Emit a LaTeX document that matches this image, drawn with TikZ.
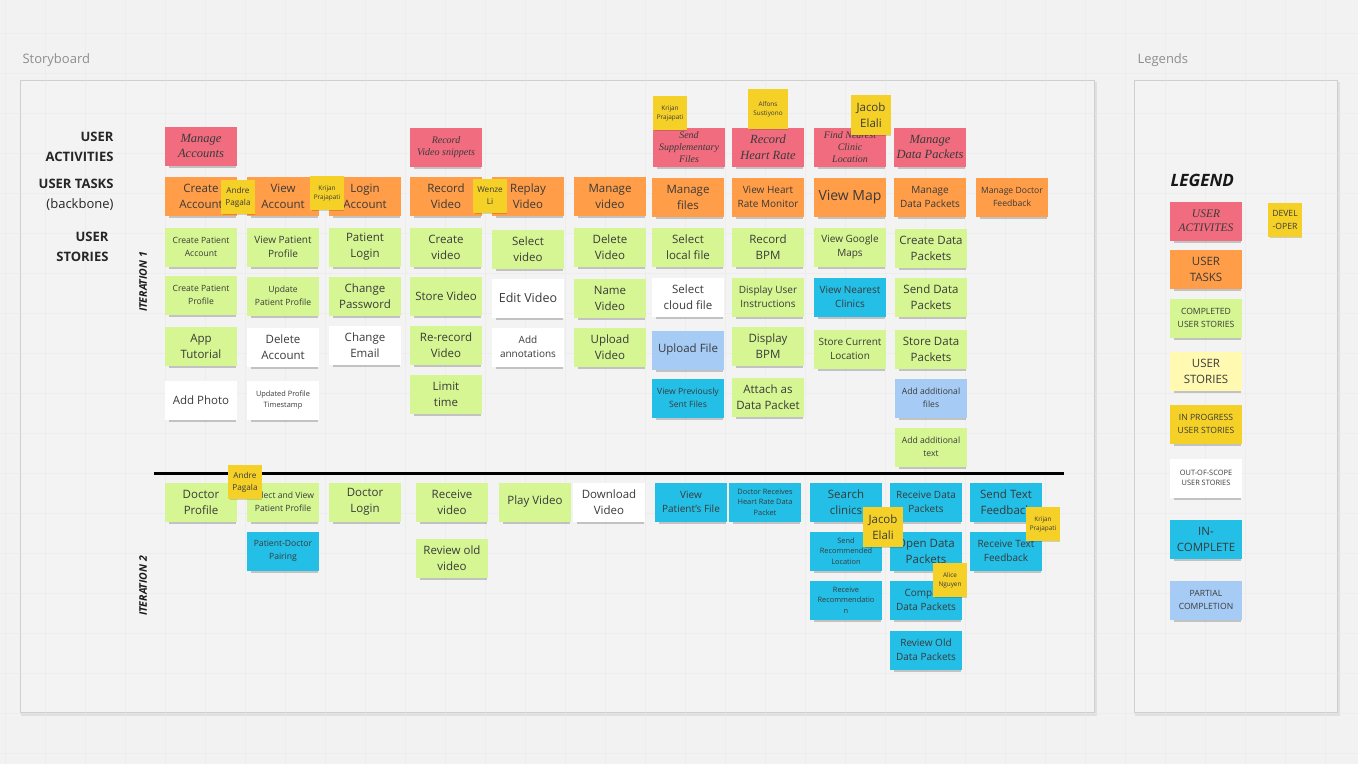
\documentclass[tikz,border=0pt]{standalone}
\usepackage{fontspec}
\setmainfont{Open Sans}
\newfontfamily\handfont{Liberation Serif}
\usepackage{tikz}
\usetikzlibrary{shadows}

\definecolor{boardbg}{HTML}{F2F2F2}
\definecolor{gridline}{HTML}{E7E7E7}
\definecolor{framebg}{HTML}{F3F3F3}
\definecolor{framerule}{HTML}{CFCFCF}
\definecolor{captiongray}{HTML}{8E8E8E}
\definecolor{notetext}{HTML}{3A3A3A}
\definecolor{pinknote}{HTML}{F16C7F}
\definecolor{orangenote}{HTML}{FF9D48}
\definecolor{greennote}{HTML}{D5F692}
\definecolor{paleyellow}{HTML}{FFF9B1}
\definecolor{devyellow}{HTML}{F5D128}
\definecolor{whitenote}{HTML}{FFFFFF}
\definecolor{cyannote}{HTML}{23BFE7}
\definecolor{bluenote}{HTML}{A6CCF5}

\newcommand{\fbig}{\fontsize{11.5}{16}\selectfont}
\newcommand{\fmid}{\fontsize{10}{14}\selectfont}
\newcommand{\fsml}{\fontsize{8.6}{12.5}\selectfont}
\newcommand{\ftny}{\fontsize{7.4}{10.5}\selectfont}
\newcommand{\fdev}{\fontsize{8.2}{12}\selectfont}
\newcommand{\fmini}{\fontsize{6.4}{9}\selectfont}
\newcommand{\fhuge}{\fontsize{14}{17}\selectfont}
\newcommand{\fhand}{\handfont\itshape\fontsize{12.5}{15.5}\selectfont}
\newcommand{\fhandsml}{\handfont\itshape\fontsize{10}{12}\selectfont}

\tikzset{
  note/.style={minimum width=72, minimum height=39, inner sep=1, align=center,
    text=notetext, font=\fbig,
    general shadow={fill=black, opacity=0.2, shadow xshift=1.5pt, shadow yshift=-3.5pt, shadow scale=0.94}},
  activity/.style={note, fill=pinknote, font=\fhand},
  tasknote/.style={note, fill=orangenote},
  done/.style={note, fill=greennote},
  story/.style={note, fill=paleyellow},
  wip/.style={note, fill=devyellow},
  outscope/.style={note, fill=whitenote},
  incomplete/.style={note, fill=cyannote},
  partial/.style={note, fill=bluenote},
  dev/.style={fill=devyellow, minimum size=34, inner sep=0.5, align=center,
    text=notetext, font=\fdev,
    general shadow={fill=black, opacity=0.15, shadow xshift=1pt, shadow yshift=-2pt, shadow scale=0.94}},
  rowlabel/.style={anchor=east, align=right, text=black!85, font=\fontsize{13}{20}\selectfont},
  caption/.style={anchor=base west, text=captiongray, font=\fontsize{13}{15}\selectfont},
  itlabel/.style={rotate=90, text=black!90, font=\bfseries\itshape\fontsize{10.5}{12}\selectfont},
}

\begin{document}
\begin{tikzpicture}[x=1pt, y=-1pt]
\useasboundingbox (0,0) rectangle (1358,764);
\fill[boardbg] (0,0) rectangle (1358,764);

% Frames
\fill[black, opacity=0.07] (21,82) rectangle (1097,716);
\fill[black, opacity=0.07] (1135,82) rectangle (1340,716);
\draw[framerule, fill=framebg] (20,80) rectangle (1094,712);
\draw[framerule, fill=framebg] (1134,80) rectangle (1337,712);

% Grid
\foreach \gx in {5,45,...,1355} \draw[gridline, opacity=0.45] (\gx,0) -- (\gx,764);
\foreach \gy in {33,73,...,753} \draw[gridline, opacity=0.45] (0,\gy) -- (1358,\gy);

\node[caption] (sbcap) at (19,63) {Storyboard};
\node[caption] (lgcap) at (1134,63) {Legends};

% Row labels
\node[rowlabel] (actlabel) at (117,147) {\bfseries USER\\\bfseries ACTIVITIES};
\node[rowlabel] (tasklabel) at (117,195) {\bfseries USER TASKS\\(backbone)};
\node[rowlabel] (storylabel) at (112,247) {\bfseries USER\\\bfseries STORIES};

\node[itlabel] (iter1) at (143,282) {ITERATION 1};
\node[itlabel] (iter2) at (143,586) {ITERATION 2};

% Column 1: accounts
\node[activity] (act1) at (201,146) {Manage\\Accounts};
\node[tasknote] (task1) at (201,196) {Create\\Account};
\node[done, font=\fsml] (s1a) at (201,247) {Create Patient\\Account};
\node[done, font=\fsml] (s1b) at (201,295) {Create Patient\\Profile};
\node[done] (s1c) at (201,346) {App\\Tutorial};
\node[outscope] (s1d) at (201,400) {Add Photo};

% Column 2
\node[tasknote] (task2) at (283,196) {View\\Account};
\node[done, font=\fmid] (s2a) at (283,247) {View Patient\\Profile};
\node[done, font=\fsml] (s2b) at (283,296) {Update\\Patient Profile};
\node[outscope] (s2c) at (283,347) {Delete\\Account};
\node[outscope, font=\ftny] (s2d) at (283,400) {Updated Profile\\Timestamp};

% Column 3
\node[tasknote] (task3) at (365,196) {Login\\Account};
\node[done] (s3a) at (365,247) {Patient\\Login};
\node[done] (s3b) at (365,296) {Change\\Password};
\node[outscope] (s3c) at (365,345) {Change\\Email};

% Column 4: video
\node[activity, font=\fhandsml] (act4) at (446,147) {Record\\Video snippets};
\node[tasknote] (task4) at (446,196) {Record\\Video};
\node[done] (s4a) at (446,247) {Create\\video};
\node[done] (s4b) at (446,296) {Store Video};
\node[done] (s4c) at (446,345) {Re-record\\Video};
\node[done] (s4d) at (446,394) {Limit\\time};

% Column 5
\node[tasknote] (task5) at (528,196) {Replay\\Video};
\node[done] (s5a) at (528,249) {Select\\video};
\node[outscope, font=\fontsize{12.5}{16}\selectfont] (s5b) at (528,298) {Edit Video};
\node[outscope, font=\fmid] (s5c) at (528,347) {Add\\annotations};

% Column 6
\node[tasknote] (task6) at (610,196) {Manage\\video};
\node[done] (s6a) at (610,247) {Delete\\Video};
\node[done] (s6b) at (610,298) {Name\\Video};
\node[done] (s6c) at (610,347) {Upload\\Video};

% Column 7: files
\node[activity, font=\fhandsml] (act7) at (689,147) {Send\\Supplementary\\Files};
\node[tasknote] (task7) at (688,197) {Manage\\files};
\node[done] (s7a) at (688,247) {Select\\local file};
\node[outscope] (s7b) at (688,297) {Select\\cloud file};
\node[partial] (s7c) at (688,350) {Upload File};
\node[incomplete, font=\fsml] (s7d) at (688,398) {View Previously\\Sent Files};

% Column 8: heart rate
\node[activity] (act8) at (768,147) {Record\\Heart Rate};
\node[tasknote, font=\fmid] (task8) at (768,197) {View Heart\\Rate Monitor};
\node[done] (s8a) at (768,247) {Record\\BPM};
\node[done, font=\fmid] (s8b) at (768,297) {Display User\\Instructions};
\node[done] (s8c) at (768,346) {Display\\BPM};
\node[done] (s8d) at (768,397) {Attach as\\Data Packet};

% Column 9: map
\node[activity, font=\fhandsml] (act9) at (850,147) {Find Nearest\\Clinic\\Location};
\node[tasknote, font=\fhuge] (task9) at (850,197) {View Map};
\node[done, font=\fmid] (s9a) at (850,247) {View Google\\Maps};
\node[incomplete, font=\fmid] (s9b) at (850,297) {View Nearest\\Clinics};
\node[done, font=\fmid] (s9c) at (850,349) {Store Current\\Location};

% Column 10: data packets
\node[activity] (act10) at (930,147) {Manage\\Data Packets};
\node[tasknote, font=\fmid] (task10) at (930,197) {Manage\\Data Packets};
\node[done] (s10a) at (931,248) {Create Data\\Packets};
\node[done] (s10b) at (931,297) {Send Data\\Packets};
\node[done] (s10c) at (931,349) {Store Data\\Packets};
\node[partial, font=\fsml] (s10d) at (931,398) {Add additional\\files};
\node[done, font=\fsml] (s10e) at (931,447) {Add additional\\text};

% Column 11
\node[tasknote, font=\fsml] (task11) at (1012,197) {Manage Doctor\\Feedback};

% Iteration divider
\coordinate (sepL) at (154,473);
\coordinate (sepR) at (1064,473);
\draw[line width=3] (sepL) -- (sepR);

% Iteration 2
\node[done] (d1) at (201,502) {Doctor\\Profile};
\node[done, font=\fsml] (d2a) at (283,502) {Select and View\\Patient Profile};
\node[incomplete, font=\fsml] (d2b) at (283,551) {Patient-Doctor\\Pairing};
\node[done] (d3) at (365,502) {Doctor\\Login};
\node[done] (d4a) at (452,502) {Receive\\video};
\node[done] (d4b) at (452,558) {Review old\\video};
\node[done] (d5) at (535,502) {Play Video};
\node[outscope] (d6) at (609,502) {Download\\Video};
\node[incomplete, font=\fmid] (d7) at (691,502) {View\\Patient's File};
\node[incomplete, font=\ftny] (d8) at (765,502) {Doctor Receives\\Heart Rate Data\\Packet};
\node[incomplete] (d9a) at (846,502) {Search\\clinics};
\node[incomplete, font=\ftny] (d9b) at (846,551) {Send\\Recommended\\Location};
\node[incomplete, font=\ftny] (d9c) at (846,600) {Receive\\Recommendatio\\n};
\node[incomplete, font=\fmid] (d10a) at (926,502) {Receive Data\\Packets};
\node[incomplete] (d10b) at (926,551) {Open Data\\Packets};
\node[incomplete, font=\fmid] (d10c) at (926,600) {Compare\\Data Packets};
\node[incomplete, font=\fmid] (d10d) at (926,650) {Review Old\\Data Packets};
\node[incomplete] (d11a) at (1006,502) {Send Text\\Feedback};
\node[incomplete, font=\fmid] (d11b) at (1006,551) {Receive Text\\Feedback};

% Developers
\node[dev] (dv1) at (238,197) {Andre\\Pagala};
\node[dev, font=\fmini] (dv2) at (327,193) {Krijan\\Prajapati};
\node[dev] (dv3) at (490,196) {Wenze\\Li};
\node[dev, font=\fmini] (dv4) at (670,113) {Krijan\\Prajapati};
\node[dev, minimum size=40, font=\fmini] (dv5) at (768,109) {Alfons\\Sustiyono};
\node[dev, minimum size=40, font=\fbig] (dv6) at (871,115) {Jacob\\Elali};
\node[dev] (dv7) at (245,482) {Andre\\Pagala};
\node[dev, minimum size=40, font=\fbig] (dv8) at (883,527) {Jacob\\Elali};
\node[dev, font=\fmini] (dv9) at (950,580) {Alice\\Nguyen};
\node[dev, font=\fmini] (dv10) at (1043,524) {Krijan\\Prajapati};

% Legend
\node[anchor=west, text=black!90, font=\bfseries\itshape\fontsize{17}{20}\selectfont] (lgtitle) at (1167,180) {LEGEND};
\node[activity, font=\handfont\itshape\fontsize{11.5}{14.5}\selectfont] (lg1) at (1206,221) {USER\\ACTIVITES};
\node[tasknote] (lg2) at (1206,269) {USER\\TASKS};
\node[done, font=\fsml] (lg3) at (1206,318) {COMPLETED\\USER STORIES};
\node[story] (lg4) at (1206,371) {USER\\STORIES};
\node[wip, font=\fsml] (lg5) at (1206,424) {IN PROGRESS\\USER STORIES};
\node[outscope, font=\ftny] (lg6) at (1206,478) {OUT-OF-SCOPE\\USER STORIES};
\node[incomplete] (lg7) at (1206,539) {IN-\\COMPLETE};
\node[partial, font=\fsml] (lg8) at (1206,600) {PARTIAL\\COMPLETION};
\node[dev, font=\fsml] (lg9) at (1285,220) {DEVEL\\-OPER};

\end{tikzpicture}
\end{document}
